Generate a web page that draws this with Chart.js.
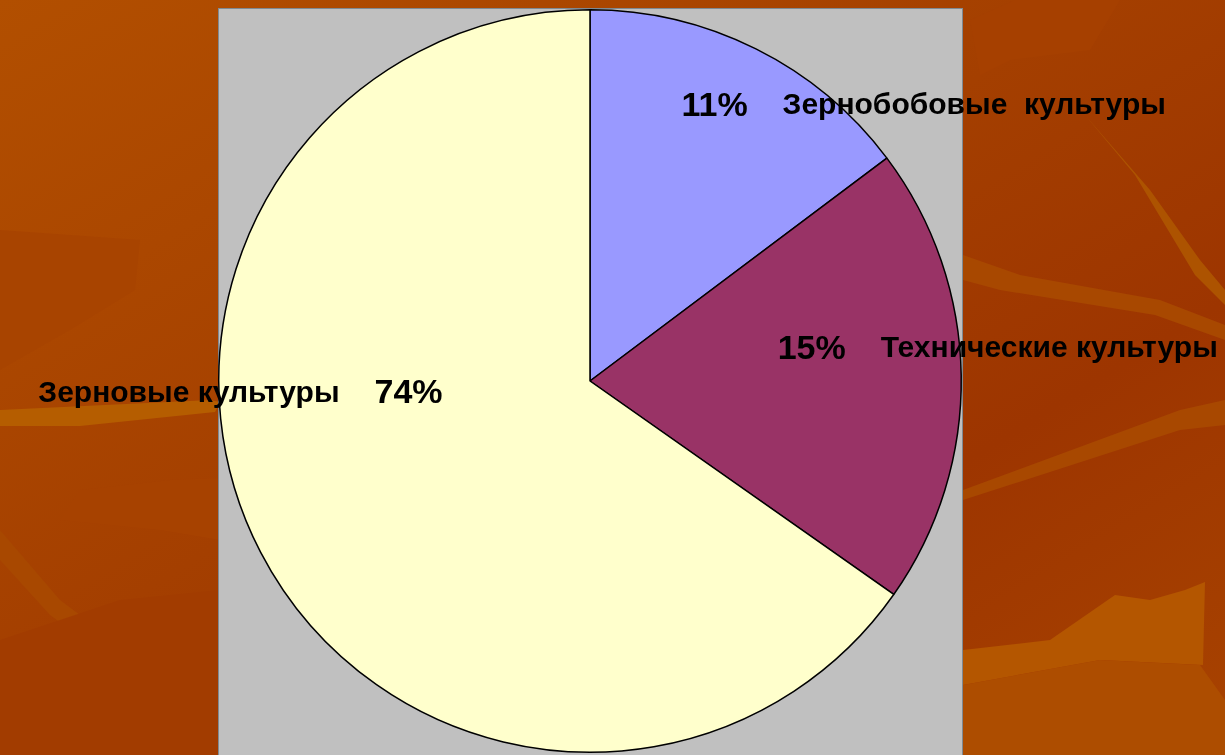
<!DOCTYPE html>
<html>
<head>
<meta charset="utf-8">
<script src="https://cdn.jsdelivr.net/npm/chart.js@4/dist/chart.umd.min.js"></script>
<style>
  html, body { margin: 0; padding: 0; }
  body { width: 1225px; height: 755px; position: relative; overflow: hidden; background: #a94400; }
  #bg { position: absolute; left: 0; top: 0; }
  #wrap { position: absolute; left: 0; top: 0; width: 1225px; height: 755px; }
</style>
</head>
<body>
<svg id="bg" width="1225" height="755" viewBox="0 0 1225 755">
  <defs>
    <linearGradient id="g" x1="0" y1="0" x2="1" y2="1">
      <stop offset="0" stop-color="#b24f00"/>
      <stop offset="0.45" stop-color="#a43f00"/>
      <stop offset="0.7" stop-color="#9d3500"/>
      <stop offset="1" stop-color="#a84300"/>
    </linearGradient>
  </defs>
  <rect width="1225" height="755" fill="url(#g)"/>
  <!-- a few streaks, roughly like the slide texture -->
  <polygon points="0,230 140,240 135,290 70,330 0,370" fill="#a84400"/>
  <polygon points="0,410 210,400 220,402 215,412 80,426 0,426" fill="#b55d00"/>
  <polygon points="0,530 60,600 220,720 220,740 50,615 0,560" fill="#a84800"/>
  <polygon points="80,490 170,480 220,478 220,540 160,530 60,520" fill="#a74200"/>
  <polygon points="963,490 1180,410 1225,400 1225,425 1180,430 963,500" fill="#a84800"/>
  <polygon points="963,255 1020,275 1160,300 1225,325 1225,340 1155,315 1000,290 963,280" fill="#a84800"/>
  <polygon points="1085,115 1150,190 1200,260 1225,290 1225,305 1195,275 1135,175" fill="#ad5300"/>
  <polygon points="963,650 1050,640 1115,595 1150,600 1185,590 1205,582 1203,665 1100,660 963,685" fill="#b45600"/>
  <polygon points="963,685 1100,660 1200,665 1225,700 1225,755 963,755" fill="#ad4d00"/>
  <polygon points="970,20 1015,0 1120,0 1090,50 1010,60 980,75" fill="#a64000"/>
  <polygon points="0,640 120,600 220,590 220,755 0,755" fill="#a23c00"/>
</svg>
<div id="wrap"><canvas id="c" width="1225" height="755"></canvas></div>
<script>
// values
const categories = ['Зернобобовые  культуры', 'Технические культуры', 'Зерновые культуры'];
const sliceValues = [14.75, 20.0, 65.25];
// percentage texts as printed on the chart
const pctLabels = ['11%', '15%', '74%'];
const sliceColors = ['#9999ff', '#993366', '#ffffcc'];

// where the % text sits: angle from 12 o'clock (deg, clockwise) and share of radius
const labelSpots = [
  { deg: 24.4, r: 0.812, side: 'right' },
  { deg: 82.0, r: 0.603, side: 'right' },
  { deg: 265.9, r: 0.49, side: 'left' }
];

const plotBox = {
  id: 'plotBox',
  beforeDraw(chart) {
    const { ctx, chartArea } = chart;
    ctx.save();
    ctx.fillStyle = '#c0c0c0';
    ctx.fillRect(chartArea.left, chartArea.top - 1, chartArea.right - chartArea.left + 1, chart.height);
    ctx.strokeStyle = '#7f8a93';
    ctx.lineWidth = 1;
    ctx.strokeRect(chartArea.left + 0.5, chartArea.top - 0.5, chartArea.right - chartArea.left, chart.height + 5);
    ctx.restore();
  }
};

const sliceText = {
  id: 'sliceText',
  afterDatasetsDraw(chart) {
    const { ctx } = chart;
    const arcs = chart.getDatasetMeta(0).data;
    ctx.save();
    ctx.fillStyle = '#000';
    ctx.textBaseline = 'middle';
    arcs.forEach((arc, i) => {
      const { x, y, outerRadius } = arc.getProps(['x', 'y', 'outerRadius'], true);
      const spot = labelSpots[i];
      const a = (spot.deg - 90) * Math.PI / 180;
      const px = x + Math.cos(a) * outerRadius * spot.r;
      const py = y + Math.sin(a) * outerRadius * spot.r;
      ctx.font = 'bold 34px "Liberation Sans", Arial, sans-serif';
      ctx.textAlign = 'center';
      ctx.fillText(pctLabels[i], px, py);
      const half = ctx.measureText(pctLabels[i]).width / 2;
      ctx.font = 'bold 30px "Liberation Sans", Arial, sans-serif';
      if (spot.side === 'right') {
        ctx.textAlign = 'left';
        ctx.fillText(categories[i], px + half + 35, py - 1);
      } else {
        ctx.textAlign = 'right';
        ctx.fillText(categories[i], px - half - 35, py);
      }
    });
    ctx.restore();
  }
};

new Chart(document.getElementById('c').getContext('2d'), {
  type: 'pie',
  data: {
    labels: categories,
    datasets: [{
      data: sliceValues,
      backgroundColor: sliceColors,
      borderColor: '#000',
      borderWidth: 1.5
    }]
  },
  options: {
    responsive: false,
    animation: false,
    layout: { padding: { left: 218, right: 263, top: 9, bottom: 2 } },
    plugins: {
      legend: { display: false },
      tooltip: { enabled: false }
    }
  },
  plugins: [plotBox, sliceText]
});
</script>
</body>
</html>
